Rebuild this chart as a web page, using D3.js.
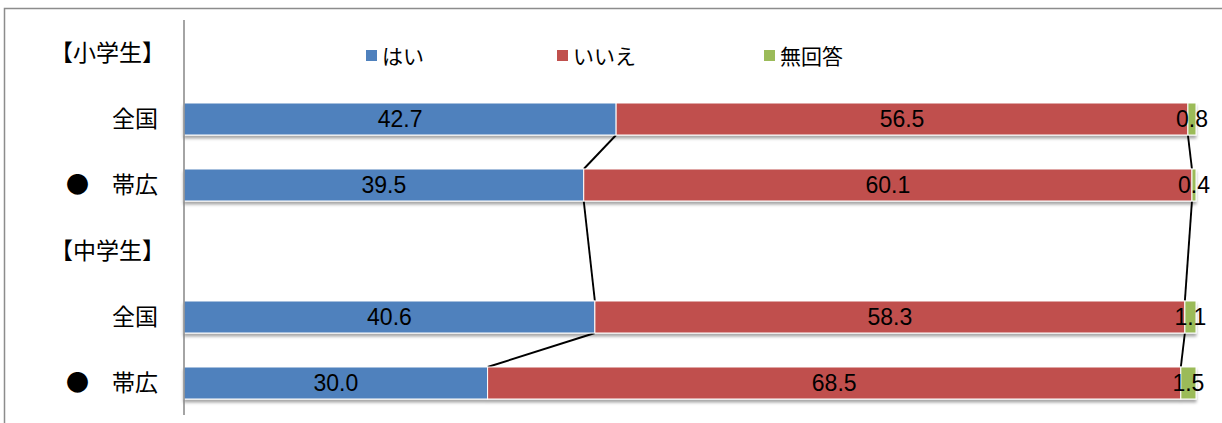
<!DOCTYPE html>
<html>
<head>
<meta charset="utf-8">
<script src="https://cdn.jsdelivr.net/npm/d3@7"></script>
<style>
  html, body { margin: 0; padding: 0; background: #fff; }
  svg { display: block; }
</style>
</head>
<body>
<svg id="chart" width="1222" height="423"></svg>
<script>
// Rows of the chart, top to bottom (header rows carry no data)
const categories = ["【小学生】", "全国", "●　帯広", "【中学生】", "全国", "●　帯広"];
const hai      = [null, 42.7, 39.5, null, 40.6, 30.0];
const iie      = [null, 56.5, 60.1, null, 58.3, 68.5];
const mukaitou = [null, 0.8, 0.4, null, 1.1, 1.5];
const seriesNames = ["はい", "いいえ", "無回答"];
const seriesColors = ["#4F81BD", "#C0504D", "#9BBB59"];

const svg = d3.select("#chart");
const W = 1222, H = 423;
const plot = { left: 184, right: 1196, top: 20, bottom: 416 };

// Outer frame
svg.append("rect")
  .attr("x", 4.5).attr("y", 8.5)
  .attr("width", W + 20).attr("height", H + 20)
  .attr("fill", "#fff").attr("stroke", "#8c8c8c").attr("stroke-width", 1.5);

const defs = svg.append("defs");
const f = defs.append("filter").attr("id", "shadow")
  .attr("x", "-2%").attr("y", "-20%").attr("width", "104%").attr("height", "160%");
f.append("feDropShadow").attr("dx", 0).attr("dy", 3).attr("stdDeviation", 1.8)
  .attr("flood-color", "#000").attr("flood-opacity", 0.35);

const x = d3.scaleLinear().domain([0, 100]).range([plot.left, plot.right]);
const y = d3.scaleBand()
  .domain(d3.range(categories.length))
  .range([plot.top, plot.bottom])
  .paddingInner(0.515).paddingOuter(0.2575);

// Stack the three answers per row
const rows = categories.map((c, i) => ({ i, c, v: [hai[i], iie[i], mukaitou[i]] }));
const dataRows = rows.filter(r => r.v[0] != null);
dataRows.forEach(r => {
  let acc = 0;
  r.segs = r.v.map((v, k) => { const s = { k, v, x0: acc, x1: acc + v }; acc += v; return s; });
});

// Series lines between consecutive data rows
const lines = svg.append("g");
for (let j = 0; j + 1 < dataRows.length; j++) {
  const a = dataRows[j], b = dataRows[j + 1];
  [0, 1].forEach(k => {
    lines.append("line")
      .attr("x1", x(a.segs[k].x1)).attr("y1", y(a.i) + y.bandwidth())
      .attr("x2", x(b.segs[k].x1)).attr("y2", y(b.i))
      .attr("stroke", "#000").attr("stroke-width", 1.9);
  });
}

// Bars
const barG = svg.append("g").selectAll("g").data(dataRows).join("g")
  .attr("filter", "url(#shadow)");
barG.selectAll("rect").data(d => d.segs.map(s => ({ ...s, row: d.i }))).join("rect")
  .attr("x", s => x(s.x0))
  .attr("y", s => y(s.row))
  .attr("width", s => x(s.x1) - x(s.x0))
  .attr("height", y.bandwidth())
  .attr("fill", s => seriesColors[s.k])
  .attr("stroke", "#fff").attr("stroke-width", 1);

// Value labels
const labelG = svg.append("g");
dataRows.forEach(r => {
  r.segs.forEach(s => {
    labelG.append("text")
      .attr("x", (x(s.x0) + x(s.x1)) / 2)
      .attr("y", y(r.i) + y.bandwidth() / 2)
      .attr("dy", "0.36em")
      .attr("text-anchor", "middle")
      .attr("font-family", "'Liberation Sans', Arial, sans-serif")
      .attr("font-size", 23)
      .attr("fill", "#000")
      .text(s.v.toFixed(1));
  });
});

// Category axis
svg.append("line")
  .attr("x1", plot.left).attr("x2", plot.left)
  .attr("y1", plot.top).attr("y2", plot.bottom - 1)
  .attr("stroke", "#868686").attr("stroke-width", 1.5);
svg.append("g").selectAll("text").data(categories).join("text")
  .attr("x", (d, i) => hai[i] == null ? 165 : 158)
  .attr("y", (d, i) => y(i) + y.bandwidth() / 2)
  .attr("dy", "0.36em")
  .attr("text-anchor", "end")
  .attr("font-family", "'Noto Sans CJK JP', sans-serif")
  .attr("font-size", 23)
  .attr("fill", "#000")
  .text(d => d);

// Legend
const legendX = [366, 557, 764];
const lg = svg.append("g").selectAll("g").data(seriesNames).join("g")
  .attr("transform", (d, i) => `translate(${legendX[i]},56)`);
lg.append("rect").attr("x", 0).attr("y", -6).attr("width", 11).attr("height", 11)
  .attr("fill", (d, i) => seriesColors[i]);
lg.append("text").attr("x", 16).attr("dy", "0.36em")
  .attr("font-family", "'Noto Sans CJK JP', sans-serif")
  .attr("font-size", 21).attr("fill", "#000")
  .text(d => d);
</script>
</body>
</html>
